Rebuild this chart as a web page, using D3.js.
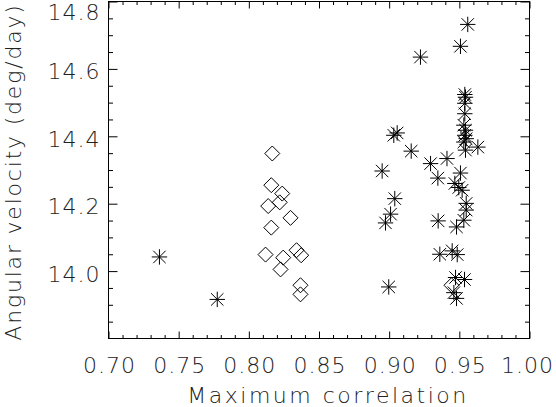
<!DOCTYPE html>
<html>
<head>
<meta charset="utf-8">
<script src="https://cdn.jsdelivr.net/npm/d3@7"></script>
<style>
  body { margin: 0; background: #fff; }
  svg text { font-family: "DejaVu Sans", sans-serif; font-weight: 200; fill: #222; }
</style>
</head>
<body>
<svg id="chart" width="556" height="407"></svg>
<script>
// ==========================
// DATA
// ==========================
const diamondX = [0.8167, 0.8160, 0.8238, 0.8220, 0.8138, 0.8297, 0.8160, 0.8119, 0.8245,
                  0.8340, 0.8373, 0.8226, 0.8368, 0.8368, 0.9444];
const diamondY = [14.349, 14.255, 14.230, 14.204, 14.193, 14.158, 14.129, 14.049, 14.040,
                  14.062, 14.047, 14.005, 13.958, 13.931, 13.958];

const starX = [0.7363, 0.7775, 0.9560, 0.9508, 0.9223, 0.9539, 0.9544, 0.9539, 0.9539, 0.9532,
               0.9544, 0.9539, 0.9549, 0.9532, 0.9632, 0.9544, 0.9033, 0.9057, 0.9157, 0.8950,
               0.9295, 0.9412, 0.9347, 0.9508, 0.9468, 0.9496, 0.9520, 0.9040, 0.9010, 0.9549,
               0.9549, 0.9532, 0.8974, 0.9349, 0.9480, 0.9361, 0.9449, 0.9485, 0.8997, 0.9473,
               0.9537, 0.9461, 0.9480];
const starY = [14.042, 13.916, 14.732, 14.667, 14.635, 14.524, 14.516, 14.498, 14.467, 14.433,
               14.418, 14.403, 14.393, 14.383, 14.368, 14.359, 14.403, 14.410, 14.356, 14.297,
               14.319, 14.334, 14.276, 14.291, 14.260, 14.248, 14.240, 14.215, 14.169, 14.201,
               14.181, 14.151, 14.143, 14.149, 14.131, 14.050, 14.060, 14.049, 13.953, 13.981,
               13.975, 13.936, 13.919];

const xMajor = [0.70, 0.75, 0.80, 0.85, 0.90, 0.95, 1.00];
const yMajor = [14.0, 14.2, 14.4, 14.6, 14.8];
const yLabeled = [14.0, 14.2, 14.4, 14.6, 14.8];
const xMinor = d3.range(71, 100).map(d => d / 100).filter(d => Math.round(d * 100) % 5 !== 0);
const yMinor = [13.85, 13.90, 13.95, 14.05, 14.10, 14.15, 14.25, 14.30, 14.35, 14.45, 14.50, 14.55, 14.65, 14.70, 14.75];

// ==========================
// LAYOUT
// ==========================
const svg = d3.select("#chart");
const pLeft = 108.5, pRight = 529.5, pTop = 1.5, pBottom = 338.5;
const labelSpacing = 1;

const x = d3.scaleLinear().domain([0.70, 1.00]).range([pLeft, pRight]);
const y = d3.scaleLinear().domain([13.8, 14.8]).range([pBottom, pTop]);

// Frame
svg.append("rect")
    .attr("x", pLeft).attr("y", pTop)
    .attr("width", pRight - pLeft).attr("height", pBottom - pTop)
    .attr("fill", "none").attr("stroke", "#000").attr("stroke-width", 1);

// Ticks (inward, on all four sides)
function tickAxis(axis, g, vals, size, labels) {
    g.call(axis.tickValues(vals).tickSize(-size).tickPadding(labels ? 8 : 0)
        .tickFormat(labels ? labels : ""));
    g.select(".domain").remove();
    g.selectAll(".tick line").attr("stroke", "#000").attr("stroke-width", 1);
    g.selectAll(".tick text")
        .style("font-size", "22px")
        .style("font-family", "'DejaVu Sans', sans-serif")
        .style("font-weight", 200)
        .style("letter-spacing", labelSpacing + "px")
        .attr("fill", "#222");
}

const gxB = svg.append("g").attr("transform", `translate(0,${pBottom})`);
tickAxis(d3.axisBottom(x), gxB, xMajor, 7, d => d3.format(".2f")(d));
gxB.selectAll(".tick text").attr("dy", null).attr("y", 34).attr("x", labelSpacing / 2);
// keep the last label inside the page
gxB.selectAll(".tick text").each(function () {
    const b = this.getBoundingClientRect();
    if (b.right > 554) d3.select(this).attr("x", labelSpacing / 2 - (b.right - 554));
});
tickAxis(d3.axisBottom(x), svg.append("g").attr("transform", `translate(0,${pBottom})`), xMinor, 3.5);
tickAxis(d3.axisTop(x), svg.append("g").attr("transform", `translate(0,${pTop})`), xMajor, 7);
tickAxis(d3.axisTop(x), svg.append("g").attr("transform", `translate(0,${pTop})`), xMinor, 3.5);

const gyL = svg.append("g").attr("transform", `translate(${pLeft},0)`);
tickAxis(d3.axisLeft(y), gyL, yMajor, 9, d => yLabeled.includes(d) ? d3.format(".1f")(d) : "");
gyL.selectAll(".tick text").attr("x", -9 + labelSpacing).attr("dy", "0.45em");
// top label is pushed down to stay inside the page
gyL.selectAll(".tick text").filter(d => d === 14.8).attr("dy", "0.82em");
tickAxis(d3.axisLeft(y), svg.append("g").attr("transform", `translate(${pLeft},0)`), yMinor, 4.5);
tickAxis(d3.axisRight(y), svg.append("g").attr("transform", `translate(${pRight},0)`), yMajor, 9);
tickAxis(d3.axisRight(y), svg.append("g").attr("transform", `translate(${pRight},0)`), yMinor, 4.5);

// Axis titles
svg.append("text")
    .attr("x", 328).attr("y", 403)
    .attr("text-anchor", "middle")
    .style("font-size", "22px")
    .style("letter-spacing", "2.5px")
    .text("Maximum correlation");

svg.append("text")
    .attr("transform", "translate(21,172) rotate(-90)")
    .attr("text-anchor", "middle")
    .style("font-size", "22px")
    .style("letter-spacing", "1.8px")
    .text("Angular velocity (deg/day)");

// ==========================
// MARKERS
// ==========================
const diamondPath = "M0,-7.5L7.5,0L0,7.5L-7.5,0Z";
svg.append("g").selectAll("path")
    .data(d3.zip(diamondX, diamondY))
    .enter().append("path")
    .attr("transform", d => `translate(${x(d[0])},${y(d[1])})`)
    .attr("d", diamondPath)
    .attr("fill", "none").attr("stroke", "#000").attr("stroke-width", 1);

const starPath = "M-7.7,0H7.7M0,-7.7V7.7M-6.2,-6.2L6.2,6.2M-6.2,6.2L6.2,-6.2";
svg.append("g").selectAll("path")
    .data(d3.zip(starX, starY))
    .enter().append("path")
    .attr("transform", d => `translate(${x(d[0])},${y(d[1])})`)
    .attr("d", starPath)
    .attr("fill", "none").attr("stroke", "#000").attr("stroke-width", 1);
</script>
</body>
</html>
